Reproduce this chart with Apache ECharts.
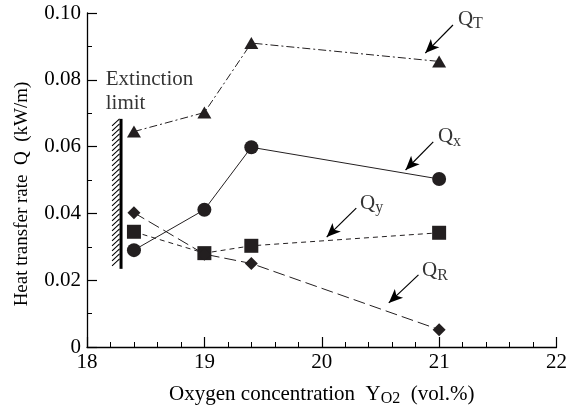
<!DOCTYPE html>
<html><head><meta charset="utf-8">
<script src="https://cdn.jsdelivr.net/npm/echarts@6/dist/echarts.min.js"></script>
<style>html,body{margin:0;padding:0;background:#fff}#c{width:570px;height:412px}</style>
</head><body><div id="c"></div>
<script>
// ---- data ----
const oxygen = [18.4, 19, 19.4, 21];
const QT = [0.0645, 0.0702, 0.0910, 0.0855];
const Qx = [0.0290, 0.0411, 0.0598, 0.0503];
const Qy = [0.0345, 0.0281, 0.0303, 0.0342];
const QR = [0.0402, 0.0278, 0.0250, 0.0052];
const extinctionX = 18.29;
const extinctionRange = [0.0234, 0.0683];
const xTicks = [18, 19, 20, 21, 22];
const yTicks = [0, 0.02, 0.04, 0.06, 0.08, 0.10];
// annotation arrows: [start, end] in data units, and label anchors
const arrows = {
  T: [[21.118, 0.0964], [20.882, 0.0880]],
  x: [[20.950, 0.0614], [20.714, 0.0530]],
  y: [[20.294, 0.0416], [20.042, 0.0329]],
  R: [[20.824, 0.0216], [20.571, 0.0132]]
};
const labelAnchors = [
  {name: 'T', pos: [21.160, 0.0982]},
  {name: 'x', pos: [20.990, 0.0629]},
  {name: 'y', pos: [20.326, 0.0431]},
  {name: 'R', pos: [20.855, 0.0228]}
];
const extLabelPos = [18.16, 0.0766];

const FONT = 'Liberation Serif';
const INK = '#231f20';
const pairs = arr => oxygen.map((x, i) => [x, arr[i]]);

const chart = echarts.init(document.getElementById('c'));
const lineSeries = (data, symbol, size, dash) => ({
  type: 'line', data: pairs(data), symbol: symbol, symbolSize: size,
  itemStyle: {color: INK}, lineStyle: {color: INK, width: 1, type: dash},
  z: 3, silent: true
});

chart.setOption({
  animation: false,
  grid: {left: 87, right: 7, top: 13, bottom: 65},
  xAxis: {
    type: 'value', min: xTicks[0], max: xTicks[xTicks.length - 1], interval: 1,
    axisLine: {lineStyle: {color: '#000', width: 1.3}},
    axisTick: {inside: true, length: 10, lineStyle: {color: '#000', width: 1.2}},
    minorTick: {show: true, splitNumber: 5, length: 5, lineStyle: {color: '#000', width: 1}},
    splitLine: {show: false},
    axisLabel: {color: '#000', fontFamily: FONT, fontSize: 21, margin: 5},
    name: '{t|Oxygen concentration  Y}{s|O2}{t|  (vol.%)}',
    nameLocation: 'middle', nameGap: 35,
    nameTextStyle: {rich: {
      t: {fontFamily: FONT, fontSize: 21, color: '#000'},
      s: {fontFamily: FONT, fontSize: 16, color: '#000', padding: [9, 0, 0, 0]}
    }}
  },
  yAxis: {
    type: 'value', min: 0, max: 0.1, interval: 0.02,
    axisLine: {show: true, lineStyle: {color: '#000', width: 1.3}},
    axisTick: {show: true, inside: true, length: 10, lineStyle: {color: '#000', width: 1.2}},
    minorTick: {show: true, splitNumber: 2, length: 5, lineStyle: {color: '#000', width: 1}},
    splitLine: {show: false},
    axisLabel: {color: '#000', fontFamily: FONT, fontSize: 21, margin: 6,
      formatter: v => v === 0 ? '0' : v.toFixed(2)},
    name: 'Heat transfer rate  Q  (kW/m)',
    nameLocation: 'middle', nameGap: 55, nameRotate: 90,
    nameTextStyle: {fontFamily: FONT, fontSize: 19, color: '#000', padding: [0, 28, 0, 0]}
  },
  series: [
    {
      type: 'custom', silent: true, z: 2,
      data: [[extinctionX, extinctionRange[0], extinctionRange[1]]],
      renderItem: function (params, api) {
        const top = api.coord([api.value(0), api.value(2)]);
        const bot = api.coord([api.value(0), api.value(1)]);
        const children = [{
          type: 'line', shape: {x1: top[0], y1: top[1], x2: bot[0], y2: bot[1]},
          style: {stroke: '#000', lineWidth: 3}
        }];
        for (let y = top[1] + 7; y <= bot[1] + 0.5; y += 5) {
          children.push({
            type: 'line', shape: {x1: top[0] - 9, y1: y, x2: top[0] - 1.5, y2: y - 7},
            style: {stroke: '#000', lineWidth: 1.1}
          });
        }
        return {type: 'group', children: children};
      }
    },
    lineSeries(QT, 'triangle', [14, 12], [8, 3, 2, 3]),
    lineSeries(Qx, 'circle', 14, 'solid'),
    lineSeries(Qy, 'rect', 14, [5, 4]),
    lineSeries(QR, 'diamond', 13, [12, 5]),
    {
      type: 'line', data: [], silent: true, z: 4,
      markLine: {
        silent: true, animation: false,
        symbol: ['none', 'arrow'], symbolSize: [9, 14],
        label: {show: false},
        lineStyle: {color: '#000', width: 1.2, type: 'solid'},
        emphasis: {disabled: true},
        data: Object.values(arrows).map(a => [{coord: a[0]}, {coord: a[1]}])
      }
    },
    {
      type: 'scatter', silent: true, symbolSize: 0, z: 5,
      data: labelAnchors.map(l => ({value: l.pos, name: l.name})),
      label: {
        show: true, position: 'right', distance: 0,
        formatter: p => '{q|Q}{s|' + p.name + '}',
        rich: {
          q: {fontFamily: FONT, fontSize: 21, color: '#000'},
          s: {fontFamily: FONT, fontSize: 16, color: '#000', padding: [10, 0, 0, 0]}
        }
      }
    },
    {
      type: 'scatter', silent: true, symbolSize: 0, z: 5,
      data: [{value: extLabelPos}],
      label: {
        show: true, position: 'right', distance: 0,
        formatter: 'Extinction\nlimit', align: 'left',
        fontFamily: FONT, fontSize: 21, lineHeight: 24, color: '#000'
      }
    }
  ]
});
</script></body></html>
